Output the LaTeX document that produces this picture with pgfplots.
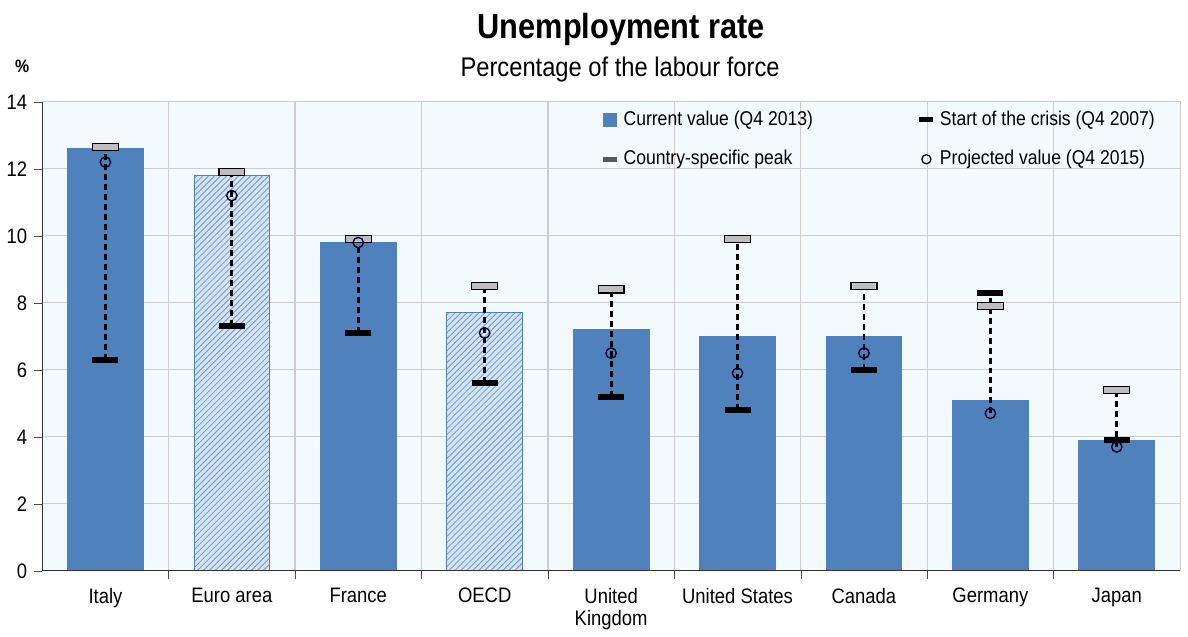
\documentclass[border=0pt]{standalone}
\usepackage{pgfplots}
\pgfplotsset{compat=1.18}
\usepackage{pgfplotstable}
\usetikzlibrary{patterns}
\usepackage{fontspec}
\setmainfont[FakeStretch=0.88]{Liberation Sans}
\definecolor{barblue}{RGB}{79,129,189}
\definecolor{hatchbg}{RGB}{210,228,246}
\definecolor{bgcol}{RGB}{242,250,253}
\definecolor{gridcol}{RGB}{205,205,205}
\definecolor{peakgray}{RGB}{190,190,190}

\pgfplotstableread{
x cur start peak proj lo dy
0 12.6 6.3 12.65 12.2 6.3 6.35
1 11.8 7.3 11.9 11.2 7.3 4.6
2 9.8 7.1 9.9 9.8 7.1 2.8
3 7.7 5.6 8.5 7.1 5.6 2.9
4 7.2 5.2 8.4 6.5 5.2 3.2
5 7.0 4.8 9.9 5.9 4.8 5.1
6 7.0 6.0 8.5 6.5 6.0 2.5
7 5.1 8.3 7.9 4.7 4.7 3.6
8 3.9 3.9 5.4 3.7 3.7 1.7
}\datatable

\begin{document}
\begin{tikzpicture}
\begin{axis}[
  scale only axis, width=570pt, height=235pt,
  xmin=-0.5, xmax=8.5, ymin=0, ymax=14,
  ytick={0,2,...,14},
  xtick={0,...,8},
  xticklabels={Italy,Euro area,France,OECD,{United\\Kingdom},United States,Canada,Germany,Japan},
  x tick label style={align=center, font=\fontsize{10.5}{11}\selectfont, yshift=-1pt},
  y tick label style={font=\fontsize{10.5}{11}\selectfont},
  /pgf/number format/assume math mode=true,
  minor xtick={0.5,1.5,...,7.5},
  xminorgrids, ymajorgrids,
  grid style={gridcol, line width=0.6pt},
  minor grid style={gridcol, line width=0.6pt},
  major x tick style={draw=none},
  tick align=outside, xtick pos=bottom, ytick pos=left,
  minor tick length=4pt, major tick length=4pt,
  tick style={black!70},
  axis line style={gridcol},
  axis background/.style={fill=bgcol},
  legend style={at={(rel axis cs:0.485,0.998)}, anchor=north west, draw=none, fill=none,
    font=\fontsize{10}{11}\selectfont, row sep=7pt,
    /tikz/every even column/.append style={column sep=50pt}},
  legend columns=2, legend cell align=left,
]
% bars
\addplot[ybar, bar width=0.6, fill=barblue, draw=barblue, bar shift=0pt,
  legend image code/.code={\fill[barblue] (0pt,-3.2pt) rectangle (6.5pt,3.2pt);}]
  coordinates {(0,12.6) (2,9.8) (4,7.2) (5,7.0) (6,7.0) (7,5.1) (8,3.9)};
\addlegendentry{Current value (Q4 2013)}
\addplot[ybar, bar width=0.6, fill=hatchbg, draw=barblue, bar shift=0pt,
  postaction={pattern=north east lines, pattern color=barblue!80}, forget plot]
  coordinates {(1,11.8) (3,7.7)};
% dashed ranges
\addplot[draw=none, mark=none, forget plot,
  error bars/.cd, y dir=plus, y explicit, error mark=none,
  error bar style={black, line width=1.4pt, dash pattern=on 3pt off 2pt}]
  table[x=x, y=lo, y error plus=dy] {\datatable};
% start of crisis
\addplot[only marks, mark=-, mark size=6.5pt, mark options={black, line width=3pt},
  legend image code/.code={\draw[black, line width=2.6pt] (0pt,0pt) -- (7pt,0pt);}]
  table[x=x, y=start] {\datatable};
\addlegendentry{Start of the crisis (Q4 2007)}
% peak
\addplot[only marks, mark=square*, mark size=1.8pt,
  mark options={xscale=3.6, fill=peakgray, draw=black, line width=0.6pt},
  legend image code/.code={\draw[black!65, line width=2.6pt] (0pt,0pt) -- (7pt,0pt);}]
  table[x=x, y=peak] {\datatable};
\addlegendentry{Country-specific peak}
% projected
\addplot[only marks, mark=o, mark size=2.6pt, mark options={black!85!blue, line width=0.7pt},
  legend image code/.code={\draw[black, line width=0.6pt] (3.5pt,0pt) circle (2.3pt);}]
  table[x=x, y=proj] {\datatable};
\addlegendentry{Projected value (Q4 2015)}
% axis lines
\draw[black!80, line width=0.8pt] (rel axis cs:0,1) -- (rel axis cs:0,0) -- (rel axis cs:1,0);
\end{axis}
\node[font=\bfseries\fontsize{17.5}{19}\selectfont] at (290pt,271pt) {Unemployment rate};
\node[font=\fontsize{13.5}{15}\selectfont] at (289.5pt,251pt) {Percentage of the labour force};
\node[font=\bfseries\fontsize{9}{10}\selectfont] at (-10pt,253pt) {\%};
\path (-20pt,-28pt) rectangle (574pt,286pt);
\end{tikzpicture}
\end{document}
